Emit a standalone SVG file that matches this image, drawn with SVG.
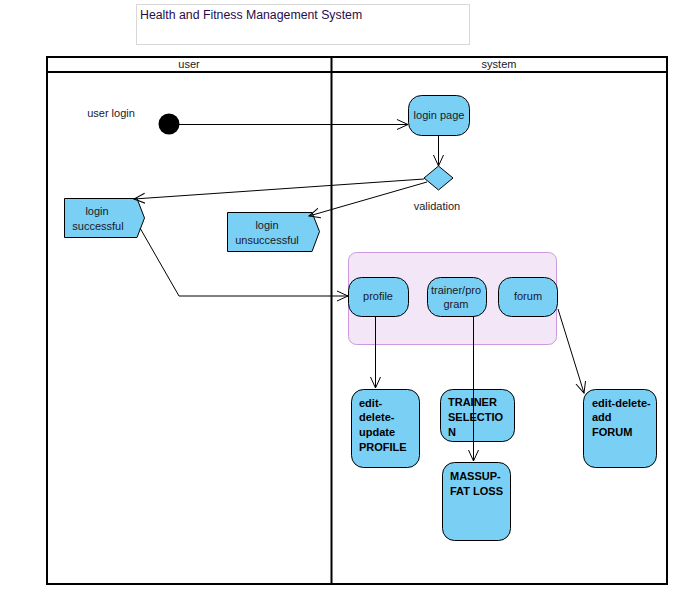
<svg xmlns="http://www.w3.org/2000/svg" width="690" height="605" viewBox="0 0 690 605">
  <defs>
    <marker id="open" viewBox="0 0 12 12" refX="11" refY="6" markerWidth="12" markerHeight="12" markerUnits="userSpaceOnUse" orient="auto">
      <path d="M0,1 L11,6 L0,11" fill="none" stroke="#000" stroke-width="1"/>
    </marker>
    <style>
      text { font-family: "Liberation Sans", Arial, sans-serif; font-size: 11px; fill: #1a1a2a; }
      .c { text-anchor: middle; }
      .b { font-weight: bold; fill: #000; }
      .node { fill: #7acff5; stroke: #000; stroke-width: 1; }
      .lane { fill: none; stroke: #000; stroke-width: 2; }
      .edge { fill: none; stroke: #000; stroke-width: 1; marker-end: url(#open); }
    </style>
  </defs>
  <rect width="690" height="605" fill="#fff"/>

  <!-- title -->
  <g id="title">
    <rect x="136.5" y="4.5" width="333" height="40" fill="#fff" stroke="#d8d8d8"/>
    <text x="140" y="19" style="fill:#2a0a4a;font-size:12.3px">Health and Fitness Management System</text>
  </g>

  <!-- swimlanes -->
  <g id="lanes">
    <rect class="lane" x="47" y="57" width="620" height="527"/>
    <line class="lane" x1="47" y1="72" x2="667" y2="72"/>
    <line class="lane" x1="331.5" y1="57" x2="331.5" y2="584"/>
    <text class="c" x="189" y="68">user</text>
    <text class="c" x="499" y="68">system</text>
  </g>

  <!-- partition around menu actions -->
  <g id="menu">
    <rect x="348.5" y="252.5" width="208" height="92" rx="8" fill="#f3e6f7" stroke="#cc99e0"/>
  </g>

  <g id="initial">
    <circle cx="169" cy="124" r="10.5" fill="#000"/>
    <text class="c" x="111" y="117">user login</text>
  </g>

  <g id="login-page">
    <rect class="node" x="408.5" y="95.5" width="61" height="40" rx="13"/>
    <text class="c" x="439" y="119">login page</text>
  </g>

  <g id="validation">
    <polygon class="node" points="438.5,166 453,178 438.5,190 424,178"/>
    <text class="c" x="437" y="210">validation</text>
  </g>

  <g id="login-successful">
    <polygon class="node" points="64.5,198.5 137,198.5 144.5,218 137,237.5 64.5,237.5"/>
    <text class="c" x="97" y="215">login</text>
    <text class="c" x="98" y="230">successful</text>
  </g>

  <g id="login-unsuccessful">
    <polygon class="node" points="227.5,212.5 312,212.5 319.5,231.5 312,251.5 227.5,251.5"/>
    <text class="c" x="267" y="229">login</text>
    <text class="c" x="267" y="244">unsuccessful</text>
  </g>

  <g id="profile">
    <rect class="node" x="348.5" y="277.5" width="60" height="39" rx="13"/>
    <text class="c" x="378" y="300">profile</text>
  </g>

  <g id="trainer-program">
    <rect class="node" x="427.5" y="277.5" width="59" height="39" rx="13"/>
    <text class="c" x="456" y="294">trainer/pro</text>
    <text class="c" x="456" y="308">gram</text>
  </g>

  <g id="forum">
    <rect class="node" x="498.5" y="277.5" width="59" height="39" rx="13"/>
    <text class="c" x="528" y="300">forum</text>
  </g>

  <g id="edit-profile">
    <rect class="node" x="351.5" y="389.5" width="68" height="78" rx="12"/>
    <text class="b" x="359" y="407">edit-</text>
    <text class="b" x="359" y="421">delete-</text>
    <text class="b" x="359" y="436">update</text>
    <text class="b" x="359" y="451">PROFILE</text>
  </g>

  <g id="trainer-selection">
    <rect class="node" x="440.5" y="389.5" width="74" height="52" rx="12"/>
    <text class="b" x="448" y="406">TRAINER</text>
    <text class="b" x="448" y="421">SELECTIO</text>
    <text class="b" x="448" y="436">N</text>
  </g>

  <g id="massup">
    <rect class="node" x="442.5" y="462.5" width="68" height="78" rx="12"/>
    <text class="b" x="450" y="480">MASSUP-</text>
    <text class="b" x="450" y="495">FAT LOSS</text>
  </g>

  <g id="edit-forum">
    <rect class="node" x="583.5" y="389.5" width="73" height="78" rx="12"/>
    <text class="b" x="592" y="407">edit-delete-</text>
    <text class="b" x="592" y="421">add</text>
    <text class="b" x="592" y="436">FORUM</text>
  </g>

  <!-- connectors, drawn over the actions -->
  <g id="connectors">
    <line class="edge" x1="179" y1="124.5" x2="408" y2="124.5"/>
    <line class="edge" x1="438.5" y1="135" x2="438.5" y2="166"/>
    <line class="edge" x1="424" y1="179" x2="134" y2="199"/>
    <line class="edge" x1="427" y1="182" x2="309" y2="216"/>
    <polyline class="edge" points="140,228 179,296 348,296"/>
    <line class="edge" x1="375.5" y1="316" x2="375.5" y2="388"/>
    <line class="edge" x1="473.5" y1="316" x2="473.5" y2="461"/>
    <line class="edge" x1="558" y1="309" x2="584" y2="393"/>
  </g>
</svg>
